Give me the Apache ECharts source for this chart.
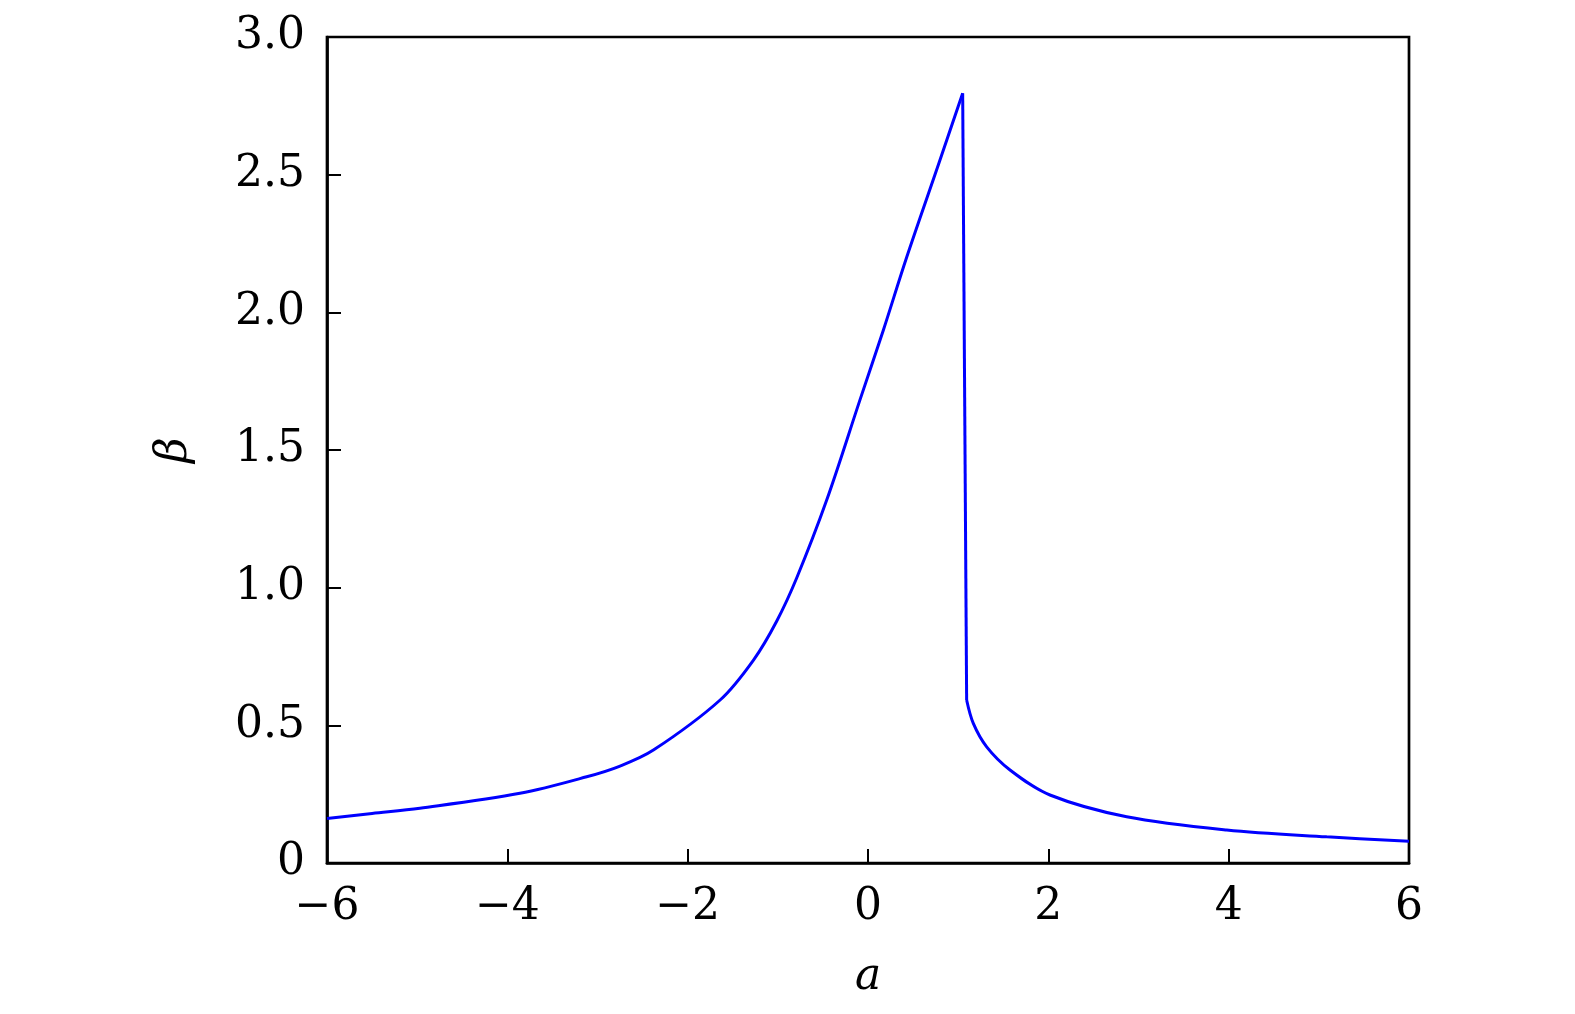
<!DOCTYPE html>
<html>
<head>
<meta charset="utf-8">
<script src="https://cdn.jsdelivr.net/npm/echarts@6/dist/echarts.min.js"></script>
<style>
html,body{margin:0;padding:0;background:#fff;}
#chart{width:1575px;height:1014px;}
</style>
</head>
<body>
<div id="chart"></div>
<script>
// Left branch (rising up to the peak)
var leftA = [-6.00, -5.50, -4.97, -3.86, -3.12, -2.75, -2.38, -1.64, -1.27, -1.013, -0.791, -0.458, -0.089, 0.170, 0.429, 0.79, 1.05];
var leftB = [0.162, 0.180, 0.199, 0.253, 0.313, 0.352, 0.410, 0.592, 0.737, 0.878, 1.035, 1.318, 1.682, 1.935, 2.200, 2.545, 2.796];
// Right branch (after the sudden drop)
var rightA = [1.094, 1.168, 1.316, 1.575, 2.018, 2.869, 3.978, 5.087, 6.00];
var rightB = [0.592, 0.507, 0.422, 0.338, 0.247, 0.168, 0.120, 0.095, 0.079];
var xTicks = [-6, -4, -2, 0, 2, 4, 6];
var yTicks = [0, 0.5, 1.0, 1.5, 2.0, 2.5, 3.0];

function pairs(a, b){ return a.map(function(v,i){ return [v, b[i]]; }); }
var leftData = pairs(leftA, leftB);
var rightData = pairs(rightA, rightB);
var dropData = [leftData[leftData.length-1], rightData[0]];

var FONT = 'DejaVu Serif';
var chart = echarts.init(document.getElementById('chart'), null, {renderer:'canvas'});
var lineStyle = {color:'#0000ff', width:3};
chart.setOption({
  animation:false,
  backgroundColor:'#ffffff',
  grid:{left:327, top:37, width:1082, height:826, show:true, borderColor:'#000', borderWidth:2.7, backgroundColor:'transparent'},
  xAxis:{
    type:'value', min:xTicks[0], max:xTicks[xTicks.length-1], interval:2,
    name:'a', nameLocation:'middle', nameGap:93,
    nameTextStyle:{fontFamily:FONT, fontStyle:'italic', fontSize:44, color:'#000'},
    axisLine:{show:true, onZero:false, lineStyle:{color:'#000', width:2.7}},
    axisTick:{show:true, inside:true, length:14, lineStyle:{color:'#000', width:2}},
    axisLabel:{margin:23, fontFamily:FONT, fontSize:44, color:'#000',
      formatter:function(v){ return (v<0 ? '\u2212' : '') + Math.abs(v); }},
    splitLine:{show:false}
  },
  yAxis:{
    type:'value', min:yTicks[0], max:yTicks[yTicks.length-1], interval:0.5,
    name:'β', nameLocation:'middle', nameGap:130, nameRotate:90,
    nameTextStyle:{fontFamily:FONT, fontStyle:'italic', fontSize:44, color:'#000'},
    axisLine:{show:true, onZero:false, lineStyle:{color:'#000', width:2.7}},
    axisTick:{show:true, inside:true, length:14, lineStyle:{color:'#000', width:2}},
    axisLabel:{margin:22, fontFamily:FONT, fontSize:44, color:'#000',
      formatter:function(v){ return v===0 ? '0' : v.toFixed(1); }},
    splitLine:{show:false}
  },
  series:[
    {type:'line', data:leftData, smooth:0.34, showSymbol:false, symbol:'none', lineStyle:lineStyle, z:3},
    {type:'line', data:dropData, smooth:false, showSymbol:false, symbol:'none', lineStyle:lineStyle, z:3},
    {type:'line', data:rightData, smooth:0.34, showSymbol:false, symbol:'none', lineStyle:lineStyle, z:3}
  ]
});
</script>
</body>
</html>
